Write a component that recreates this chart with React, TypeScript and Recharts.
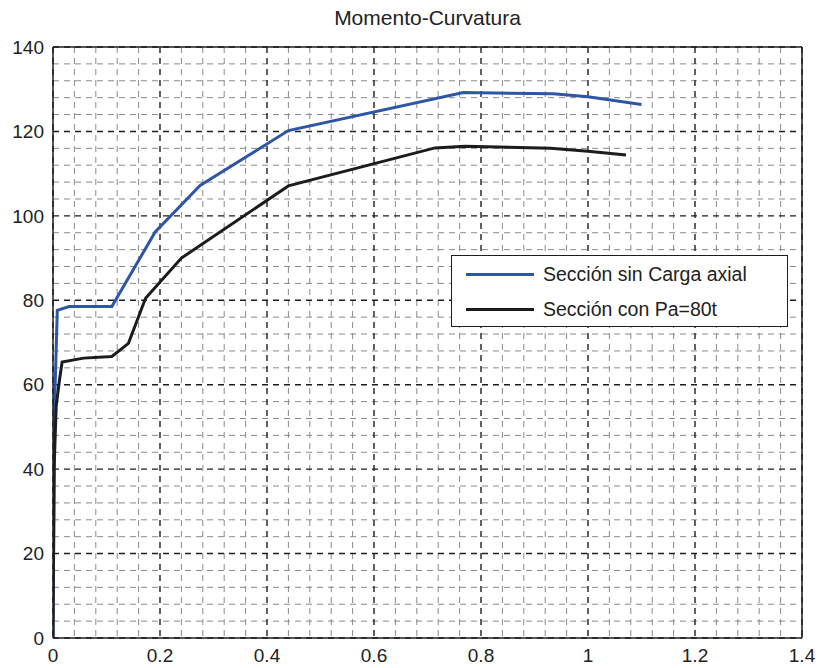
import React from "react";
import {
  CartesianGrid,
  Line,
  LineChart,
  ReferenceLine,
  XAxis,
  YAxis,
} from "recharts";

// Momento-curvatura de la sección, con y sin carga axial
const SIN_CARGA_X = [0, 0.003, 0.008, 0.03, 0.11, 0.191, 0.275, 0.44, 0.767, 0.935, 1.0, 1.1];
const SIN_CARGA_M = [0, 55, 77.6, 78.5, 78.5, 96.2, 107.2, 120.2, 129.2, 128.9, 128.2, 126.4];

const CON_CARGA_X = [0, 0.002, 0.006, 0.012, 0.017, 0.057, 0.11, 0.141, 0.173, 0.24, 0.44, 0.714, 0.77, 0.93, 1.0, 1.071];
const CON_CARGA_M = [0, 40, 55, 61, 65.4, 66.3, 66.7, 69.8, 80.5, 90.0, 107.1, 116.1, 116.5, 116.0, 115.3, 114.4];

const X_TICKS = [0, 0.2, 0.4, 0.6, 0.8, 1, 1.2, 1.4];
const Y_TICKS = [0, 20, 40, 60, 80, 100, 120, 140];

const SERIES = [
  { name: "Sección sin Carga axial", color: "#2f56a6", xs: SIN_CARGA_X, ys: SIN_CARGA_M },
  { name: "Sección con Pa=80t", color: "#1c1c1c", xs: CON_CARGA_X, ys: CON_CARGA_M },
];

// rejilla menor: 5 divisiones por cada división mayor
const minor = (ticks: number[]) => {
  const out: number[] = [];
  for (let i = 0; i < ticks.length - 1; i++) {
    const step = (ticks[i + 1] - ticks[i]) / 5;
    for (let k = 1; k < 5; k++) out.push(+(ticks[i] + k * step).toFixed(4));
  }
  return out;
};

const FONT = "'Liberation Sans', Arial, Helvetica, sans-serif";

export default function App() {
  const lines = SERIES.map((s) => ({
    ...s,
    data: s.xs.map((x, i) => ({ x, m: s.ys[i] })),
  }));

  return (
    <div style={{ position: "absolute", left: 0, top: 0, width: 822, height: 668, background: "#fff", fontFamily: FONT }}>
      <div
        style={{
          position: "absolute",
          left: 53,
          width: 749,
          top: 6,
          textAlign: "center",
          fontSize: 21,
          lineHeight: "24px",
          color: "#222",
        }}
      >
        Momento-Curvatura
      </div>
      <LineChart
        width={822}
        height={668}
        margin={{ top: 47, right: 20, bottom: 0, left: 8 }}
      >
        <CartesianGrid
          stroke="#8a8a8a"
          strokeDasharray="6 5"
          strokeWidth={1}
          verticalValues={minor(X_TICKS)}
          horizontalValues={minor(Y_TICKS)}
        />
        <CartesianGrid
          stroke="#1e1e1e"
          strokeDasharray="6 5"
          strokeWidth={1.4}
          verticalValues={X_TICKS}
          horizontalValues={Y_TICKS}
        />
        <XAxis
          type="number"
          dataKey="x"
          domain={[0, 1.4]}
          ticks={X_TICKS}
          interval={0}
          tickFormatter={(v: number) => String(v)}
          tick={{ fontSize: 19, fill: "#222", fontFamily: FONT }}
          tickLine={false}
          tickSize={0}
          tickMargin={11}
          height={30}
          axisLine={{ stroke: "#1e1e1e", strokeWidth: 1.5 }}
          allowDataOverflow
        />
        <YAxis
          type="number"
          dataKey="m"
          domain={[0, 140]}
          ticks={Y_TICKS}
          interval={0}
          tick={{ fontSize: 19, fill: "#222", fontFamily: FONT }}
          tickLine={false}
          tickSize={0}
          tickMargin={9}
          width={45}
          axisLine={{ stroke: "#1e1e1e", strokeWidth: 1.5 }}
          allowDataOverflow
        />
        <ReferenceLine y={140} stroke="#1e1e1e" strokeWidth={1.5} />
        <ReferenceLine x={1.4} stroke="#1e1e1e" strokeWidth={1.5} />
        {lines.map((s) => (
          <Line
            key={s.name}
            data={s.data}
            dataKey="m"
            name={s.name}
            type="linear"
            stroke={s.color}
            strokeWidth={3}
            dot={false}
            activeDot={false}
            isAnimationActive={false}
          />
        ))}
      </LineChart>
      <div
        style={{
          position: "absolute",
          left: 451,
          top: 255,
          width: 335,
          height: 70,
          background: "#fff",
          border: "1px solid #1e1e1e",
          boxSizing: "content-box",
        }}
      >
        {SERIES.map((s, i) => (
          <div
            key={s.name}
            style={{
              position: "absolute",
              left: 14,
              top: 5 + i * 35,
              height: 26,
              display: "flex",
              alignItems: "center",
              fontSize: 19.5,
              color: "#222",
              whiteSpace: "nowrap",
            }}
          >
            <span style={{ display: "inline-block", width: 68, height: 3, background: s.color, marginRight: 9 }} />
            {s.name}
          </div>
        ))}
      </div>
    </div>
  );
}
